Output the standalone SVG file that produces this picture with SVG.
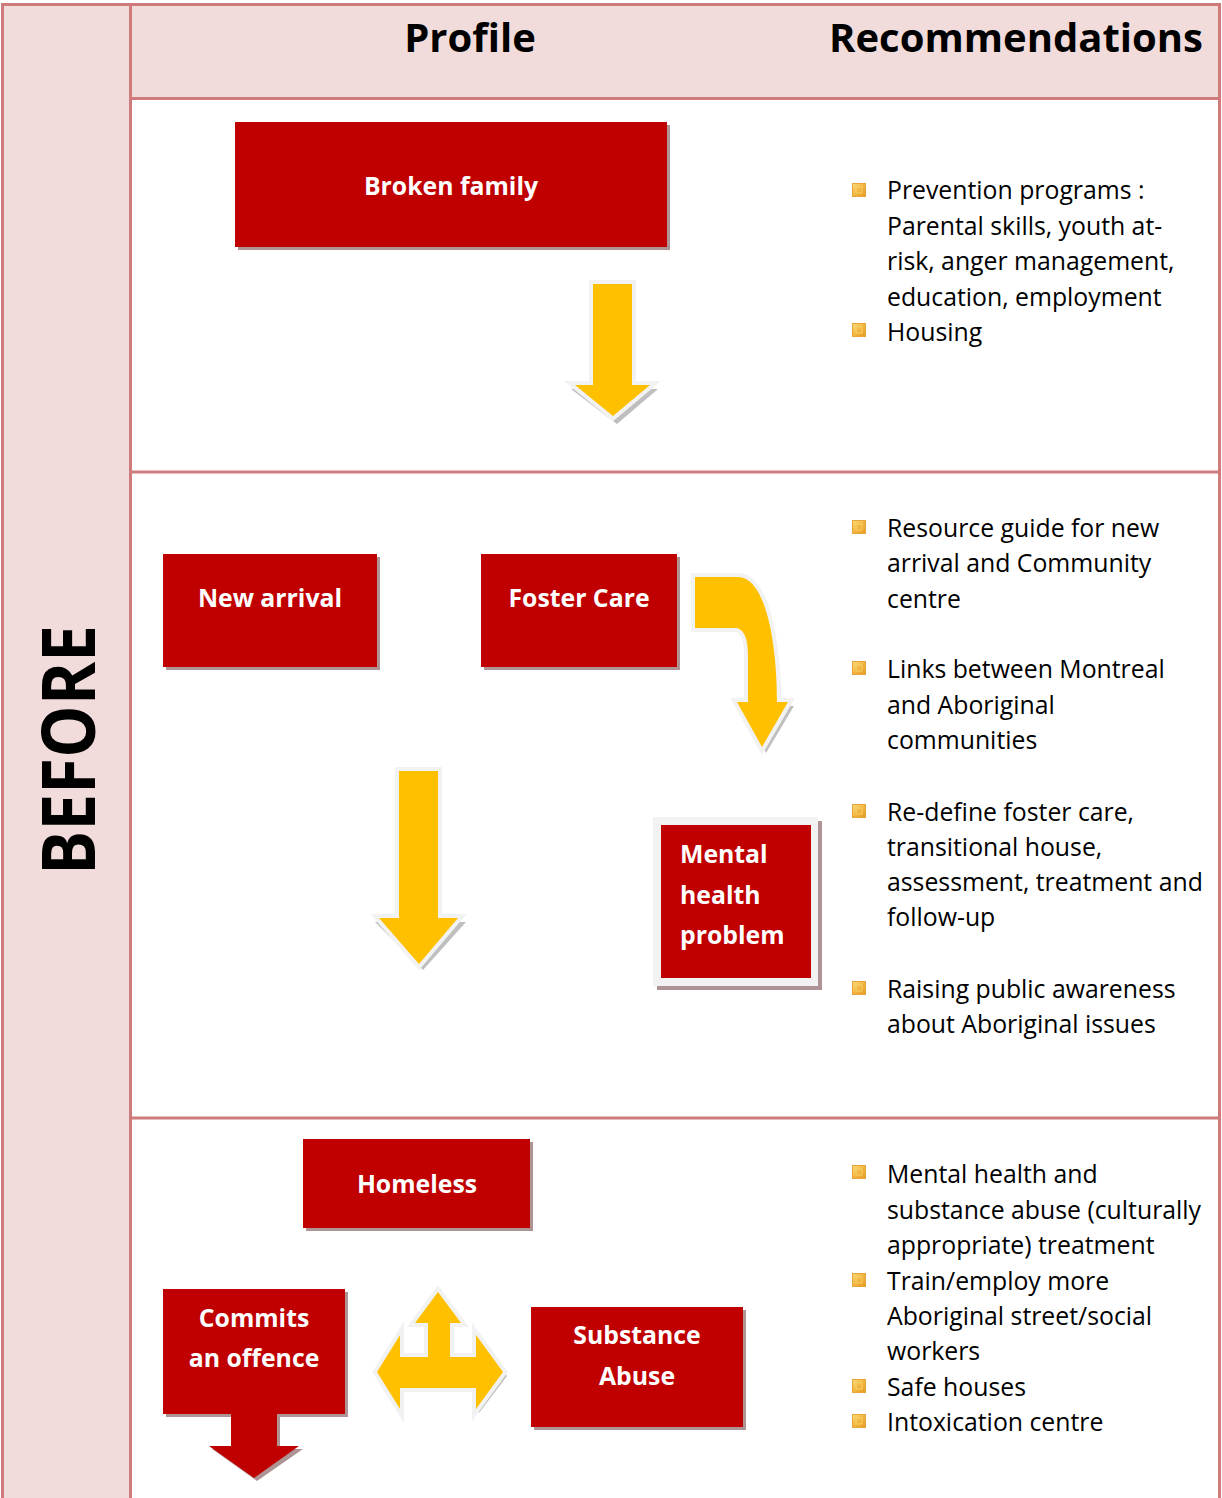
<svg xmlns="http://www.w3.org/2000/svg" xmlns:xlink="http://www.w3.org/1999/xlink" width="1222" height="1498" viewBox="0 0 1222 1498">
<style>
.frame{fill:none;stroke:#CF7B7B;stroke-width:3}
.pink{fill:#F2DCDB}
.hdr{font-family:"Open Sans","Liberation Sans",sans-serif;font-weight:bold;font-size:40px;fill:#000}
.box{fill:#C00000}
.shadow{fill:#AE9494}
.lbl{font-family:"Open Sans","Liberation Sans",sans-serif;font-weight:bold;font-size:24.8px;fill:#fff}
.arrow{fill:#FFC000;stroke:#F2F2F2;stroke-width:8;paint-order:stroke;stroke-linejoin:miter}
.ashadow{fill:#BFBFBF}
.txt{font-family:"Open Sans","Liberation Sans",sans-serif;font-size:24.8px;fill:#000}
</style>
<defs>
<linearGradient id="bg" x1="0" y1="0" x2="1" y2="1">
<stop offset="0" stop-color="#FBDD7A"/>
<stop offset="0.5" stop-color="#F2B640"/>
<stop offset="1" stop-color="#E89A20"/>
</linearGradient>
<symbol id="bullet" viewBox="0 0 14 14" width="14" height="14">
<rect x="0.5" y="0.5" width="13" height="13" fill="url(#bg)" stroke="#E6A53A" stroke-width="1"/>
<rect x="4" y="4" width="6" height="6" fill="none" stroke="#F7CF6A" stroke-width="1"/>
</symbol>
</defs>

<rect x="0" y="0" width="1222" height="1498" fill="#fff"/>
<g id="layout">
<rect class="pink" x="2" y="4" width="129" height="1494"/>
<rect class="pink" x="131" y="4" width="1089" height="94"/>
<line class="frame" x1="2" y1="4.5" x2="1220" y2="4.5"/>
<line class="frame" x1="2.5" y1="3" x2="2.5" y2="1498"/>
<line class="frame" x1="130.5" y1="3" x2="130.5" y2="1498"/>
<line class="frame" x1="1219.5" y1="3" x2="1219.5" y2="1498"/>
<line class="frame" x1="130" y1="98.5" x2="1221" y2="98.5"/>
<line class="frame" x1="130" y1="472" x2="1221" y2="472"/>
<line class="frame" x1="130" y1="1118" x2="1221" y2="1118"/>
<text class="hdr" x="470" y="52" text-anchor="middle">Profile</text>
<text class="hdr" x="1016" y="52" text-anchor="middle">Recommendations</text>
<text transform="translate(95,750) rotate(-90)" text-anchor="middle" font-family="'Open Sans','Liberation Sans',sans-serif" font-weight="bold" font-size="74" textLength="250" lengthAdjust="spacingAndGlyphs" fill="#000">BEFORE</text>
</g>

<g id="connectors">
<g id="arrow-broken">
<path class="ashadow" d="M597,288 L636,288 L636,389 L658,389 L617,424 L571,389 L597,389 Z"/>
<path class="arrow" d="M593,284 L632,284 L632,385 L650,385 L613,416 L575,385 L593,385 Z"/>
</g>
<g id="arrow-curve">
<path class="ashadow" d="M698,581 L741,581 C768,581 781,644 781,706 L794,706 L766,753 L740,706 L752,706 L752,659 C752,639 746,632 739,632 L698,632 Z"/>
<path class="arrow" d="M695,577 L738,577 C765,577 777,640 777,702 L788,702 L762,747 L737,702 L748,702 L748,655 C748,635 742,628 735,628 L695,628 Z"/>
</g>
<g id="arrow-down">
<path class="ashadow" d="M403,775 L442,775 L442,922 L466,922 L423,970 L375,922 L403,922 Z"/>
<path class="arrow" d="M399,771 L438,771 L438,918 L458,918 L419,964 L379,918 L399,918 Z"/>
</g>
<g id="arrow-three">
<path class="ashadow" d="M441,1296 L464,1327 L453,1327 L453,1361 L479,1361 L479,1339 L507,1376 L479,1413 L479,1392 L403,1392 L403,1413 L380,1376 L403,1339 L403,1361 L431,1361 L431,1327 L418,1327 Z"/>
<path class="arrow" d="M438,1292 L461,1323 L450,1323 L450,1357 L476,1357 L476,1335 L503,1372 L476,1409 L476,1388 L400,1388 L400,1409 L377,1372 L400,1335 L400,1357 L428,1357 L428,1323 L415,1323 Z"/>
</g>
</g>

<g id="node-broken-family">
<rect class="shadow" x="238" y="125" width="432" height="125"/>
<rect class="box" x="235" y="122" width="432" height="125"/>
<text class="lbl" x="451" y="195" text-anchor="middle">Broken family</text>
</g>
<g id="node-new-arrival">
<rect class="shadow" x="166" y="557" width="214" height="113"/>
<rect class="box" x="163" y="554" width="214" height="113"/>
<text class="lbl" x="270" y="607" text-anchor="middle">New arrival</text>
</g>
<g id="node-foster-care">
<rect class="shadow" x="484" y="557" width="196" height="113"/>
<rect class="box" x="481" y="554" width="196" height="113"/>
<text class="lbl" x="579" y="607" text-anchor="middle">Foster Care</text>
</g>
<g id="node-mental-health">
<rect class="shadow" x="657" y="821" width="165" height="169"/>
<rect x="653" y="817" width="165" height="169" fill="#F2F2F2"/>
<rect class="box" x="661" y="825" width="150" height="153"/>
<text class="lbl" x="680" y="863">Mental</text>
<text class="lbl" x="680" y="904">health</text>
<text class="lbl" x="680" y="944">problem</text>
</g>
<g id="node-homeless">
<rect class="shadow" x="306" y="1142" width="227" height="89"/>
<rect class="box" x="303" y="1139" width="227" height="89"/>
<text class="lbl" x="417" y="1193" text-anchor="middle">Homeless</text>
</g>
<g id="node-commits">
<path class="shadow" d="M166,1292 L348,1292 L348,1417 L280,1417 L280,1449 L303,1449 L257,1481 L212,1449 L234,1449 L234,1417 L166,1417 Z"/>
<path class="box" d="M163,1289 L345,1289 L345,1414 L277,1414 L277,1446 L299,1446 L254,1478 L209,1446 L231,1446 L231,1414 L163,1414 Z"/>
<text class="lbl" x="254" y="1327" text-anchor="middle">Commits</text>
<text class="lbl" x="254" y="1367" text-anchor="middle">an offence</text>
</g>
<g id="node-substance">
<rect class="shadow" x="534" y="1310" width="212" height="120"/>
<rect class="box" x="531" y="1307" width="212" height="120"/>
<text class="lbl" x="637" y="1344" text-anchor="middle">Substance</text>
<text class="lbl" x="637" y="1385" text-anchor="middle">Abuse</text>
</g>

<g id="recommendations-1">
<use xlink:href="#bullet" x="852" y="183"/>
<use xlink:href="#bullet" x="852" y="323"/>
<text class="txt" x="887" y="199">Prevention programs :</text>
<text class="txt" x="887" y="235">Parental skills, youth at-</text>
<text class="txt" x="887" y="270">risk, anger management,</text>
<text class="txt" x="887" y="306">education, employment</text>
<text class="txt" x="887" y="341">Housing</text>
</g>
<g id="recommendations-2">
<use xlink:href="#bullet" x="852" y="520"/>
<use xlink:href="#bullet" x="852" y="661"/>
<use xlink:href="#bullet" x="852" y="804"/>
<use xlink:href="#bullet" x="852" y="981"/>
<text class="txt" x="887" y="537">Resource guide for new</text>
<text class="txt" x="887" y="572">arrival and Community</text>
<text class="txt" x="887" y="608">centre</text>
<text class="txt" x="887" y="678">Links between Montreal</text>
<text class="txt" x="887" y="714">and Aboriginal</text>
<text class="txt" x="887" y="749">communities</text>
<text class="txt" x="887" y="821">Re-define foster care,</text>
<text class="txt" x="887" y="856">transitional house,</text>
<text class="txt" x="887" y="891">assessment, treatment and</text>
<text class="txt" x="887" y="926">follow-up</text>
<text class="txt" x="887" y="998">Raising public awareness</text>
<text class="txt" x="887" y="1033">about Aboriginal issues</text>
</g>
<g id="recommendations-3">
<use xlink:href="#bullet" x="852" y="1165"/>
<use xlink:href="#bullet" x="852" y="1273"/>
<use xlink:href="#bullet" x="852" y="1379"/>
<use xlink:href="#bullet" x="852" y="1414"/>
<text class="txt" x="887" y="1183">Mental health and</text>
<text class="txt" x="887" y="1219">substance abuse (culturally</text>
<text class="txt" x="887" y="1254">appropriate) treatment</text>
<text class="txt" x="887" y="1290">Train/employ more</text>
<text class="txt" x="887" y="1325">Aboriginal street/social</text>
<text class="txt" x="887" y="1360">workers</text>
<text class="txt" x="887" y="1396">Safe houses</text>
<text class="txt" x="887" y="1431">Intoxication centre</text>
</g>
</svg>
